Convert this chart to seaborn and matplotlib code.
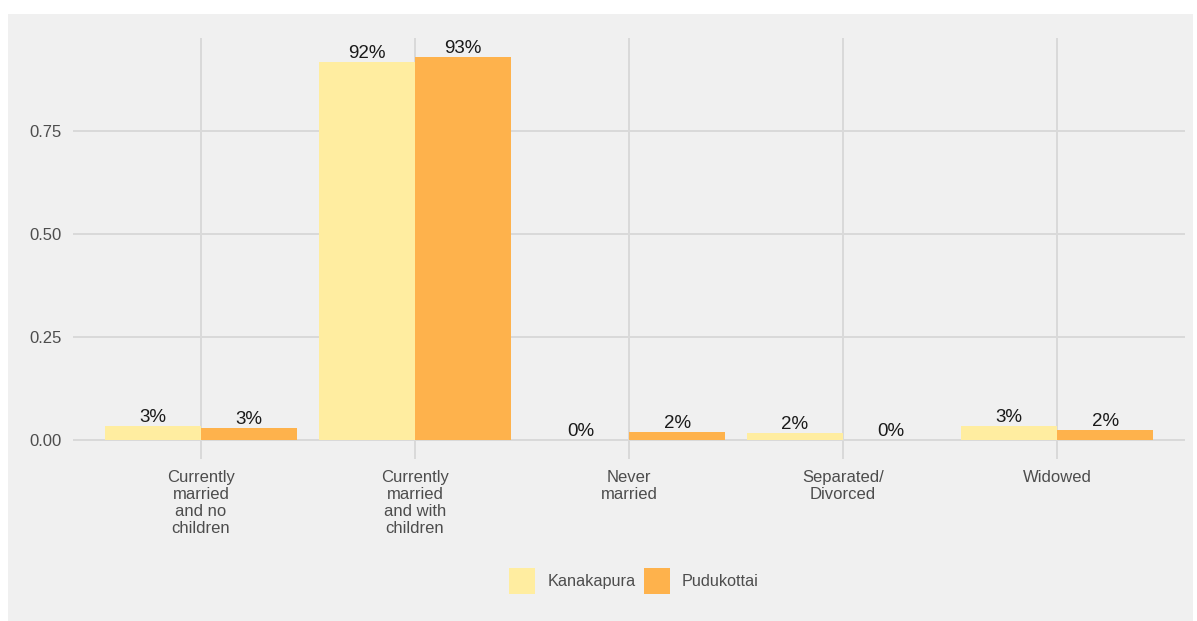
import matplotlib
matplotlib.use("Agg")
import matplotlib.pyplot as plt
from matplotlib.patches import Rectangle, Patch
import seaborn as sns
import pandas as pd

# Marital status shares by district
categories = [
    "Currently\nmarried\nand no\nchildren",
    "Currently\nmarried\nand with\nchildren",
    "Never\nmarried",
    "Separated/\nDivorced",
    "Widowed",
]
districts = ["Kanakapura", "Pudukottai"]
kanakapura = [0.034, 0.918, 0.0, 0.017, 0.034]
pudukottai = [0.029, 0.930, 0.019, 0.0, 0.024]
y_ticks = [0.0, 0.25, 0.50, 0.75]
colors = {"Kanakapura": "#FFEDA0", "Pudukottai": "#FEB24C"}

df = pd.DataFrame({
    "status": categories * 2,
    "district": [districts[0]] * len(categories) + [districts[1]] * len(categories),
    "share": kanakapura + pudukottai,
})

sns.set_theme(style="white")
plt.rcParams["font.family"] = ["Liberation Sans", "DejaVu Sans"]

W, H = 1197, 621
fig = plt.figure(figsize=(W / 100, H / 100), dpi=100, facecolor="white")
bg = "#f0f0f0"
fig.patches.append(Rectangle((8 / W, 0), (1193 - 8) / W, (H - 14) / H,
                             transform=fig.transFigure, facecolor=bg,
                             edgecolor="none", zorder=-5))

left, right, top, bottom = 72.6, 1185.4, 38, 459
ax = fig.add_axes([left / W, (H - bottom) / H, (right - left) / W, (bottom - top) / H])
ax.set_facecolor(bg)

sns.barplot(data=df, x="status", y="share", hue="district", order=categories,
            hue_order=districts, palette=colors, width=0.9, saturation=1,
            edgecolor="none", linewidth=0, legend=False, ax=ax, zorder=3)

# value labels above each bar
for cont in ax.containers:
    labels = [f"{round(b.get_height() * 100)}%" for b in cont]
    ax.bar_label(cont, labels=labels, padding=0, fontsize=13.5, color="#1a1a1a")

ymax = max(max(kanakapura), max(pudukottai))
ax.set_ylim(-0.05 * ymax, 1.05 * ymax)
ax.set_xlim(-0.6, len(categories) - 0.4)
ax.set_yticks(y_ticks)
ax.set_yticklabels([f"{v:.2f}" for v in y_ticks])

grid_c = "#d9d9d9"
for v in y_ticks:
    ax.axhline(v, color=grid_c, lw=1.4, zorder=1)
for i in range(len(categories)):
    ax.axvline(i, color=grid_c, lw=1.4, zorder=1)

for s in ax.spines.values():
    s.set_visible(False)
ax.tick_params(axis="both", length=0, labelcolor="#4d4d4d", labelsize=12)
ax.tick_params(axis="x", pad=8)
ax.tick_params(axis="y", pad=8)
for t in ax.get_xticklabels():
    t.set_linespacing(1.17)
ax.set_xlabel("")
ax.set_ylabel("")

handles = [Patch(facecolor=colors[d], edgecolor="none") for d in districts]
fig.legend(handles, districts, loc="center", bbox_to_anchor=(634 / W, (H - 581) / H),
           ncol=2, frameon=False, fontsize=11.7, labelcolor="#4d4d4d",
           handlelength=1.6, handleheight=2.1, handletextpad=0.74,
           columnspacing=0.5)

fig.savefig("out.png", dpi=100, facecolor="white")
